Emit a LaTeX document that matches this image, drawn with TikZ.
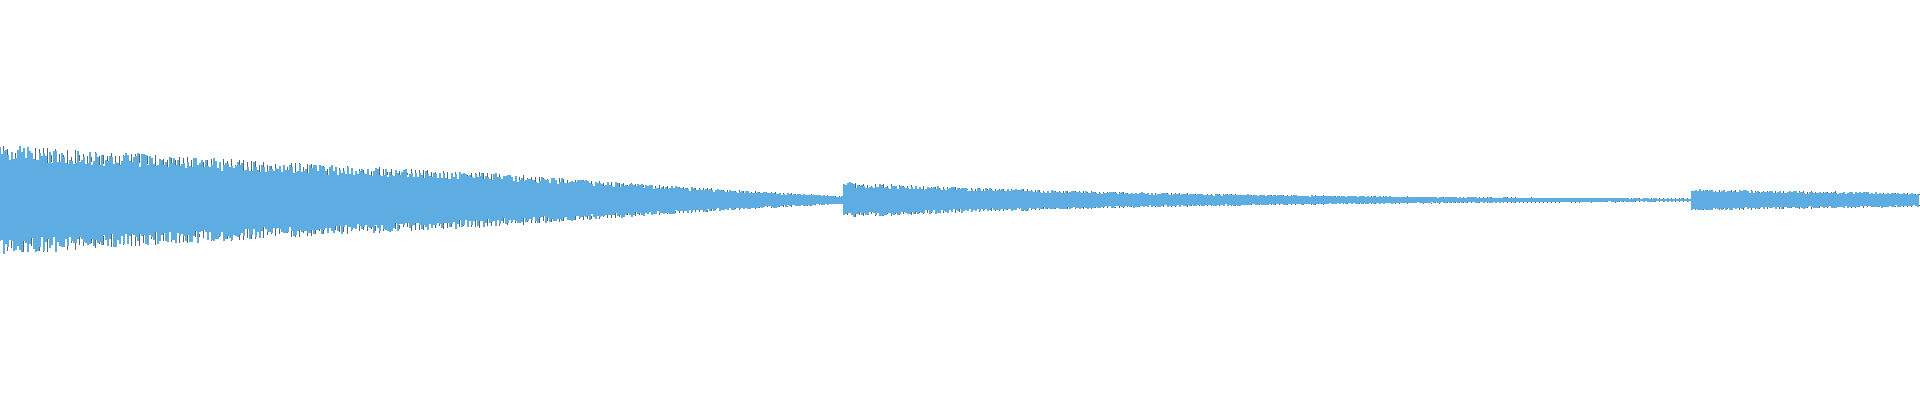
\documentclass[tikz,border=0pt]{standalone}
\usepackage{tikz}
\definecolor{wave}{RGB}{93,172,226}
\definecolor{wavedark}{RGB}{90,100,110}
\tikzset{
        sample/.style = {draw=wave, line width=0.016cm},
        tick/.style = {draw=wavedark, line width=0.004cm},
    }
\begin{document}
\begin{tikzpicture}[x=0.01cm,y=0.01cm]
    \useasboundingbox (0,0) rectangle (1920,400);
    \pgfmathsetseed{7}
    % waveform samples
    \foreach \x in {0,2,...,1918}{
        \pgfmathsetmacro{\ex}{\x<843 ? 0 : (\x-843)/350}
        \pgfmathsetmacro{\env}{\x<245 ? 55-\x/245*15 :
            (\x<490 ? 40-(\x-245)/245*13 :
            (\x<735 ? 27-(\x-490)/245*17 :
            (\x<843 ? 10-(\x-735)/108*6 :
            (\x<1691 ? 18*exp(-\ex) :
            11-(\x-1691)/229*4))))}
        \pgfmathsetmacro{\up}{\env*(0.7+0.3*rnd)}
        \pgfmathsetmacro{\dn}{\env*(0.7+0.3*rnd)}
        \draw[sample] (\x,200+\up) -- (\x,200-\dn);
        \pgfmathsetmacro{\tk}{\env*(0.85+0.15*rnd)}
        \ifodd\numexpr\x/2\relax
            \draw[tick] (\x+1,200+\tk) -- (\x+1,200+\up*0.8);
            \draw[tick] (\x+1,200-\tk) -- (\x+1,200-\dn*0.8);
        \fi
    }
\end{tikzpicture}
\end{document}
